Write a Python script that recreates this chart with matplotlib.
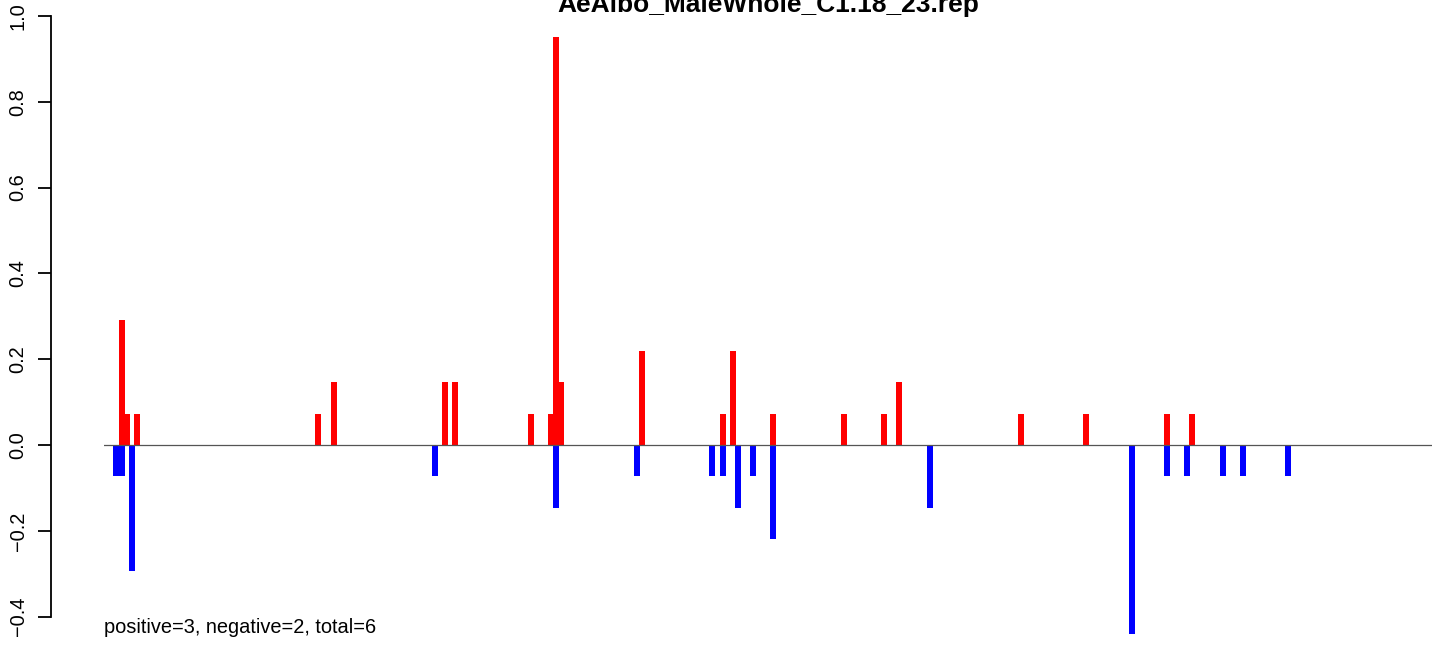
import matplotlib
matplotlib.use("Agg")
import matplotlib.pyplot as plt

plt.rcParams['font.family'] = ['Liberation Sans', 'DejaVu Sans']

# ---- data (positions along the read, relative values) ----
title = "AeAlbo_MaleWhole_C1.18_23.rep"
note = "positive=3, negative=2, total=6"

pos_x = [18, 23, 33, 214, 230, 341, 351, 427, 447, 452, 457, 538,
         619, 629, 669, 740, 780, 795, 917, 982, 1063, 1088]
pos_y = [0.291, 0.073, 0.073, 0.073, 0.146, 0.146, 0.146, 0.073, 0.073, 0.951, 0.146, 0.22,
         0.073, 0.22, 0.073, 0.073, 0.073, 0.146, 0.073, 0.073, 0.073, 0.073]

neg_x = [12, 18, 28, 331, 452, 533, 608, 619, 634, 649, 669, 826,
         1028, 1063, 1083, 1119, 1139, 1184]
neg_y = [-0.073, -0.073, -0.293, -0.073, -0.146, -0.073, -0.073, -0.073, -0.146, -0.073, -0.22, -0.146,
         -0.44, -0.073, -0.073, -0.073, -0.073, -0.073]

yticks = [-0.4, -0.2, 0.0, 0.2, 0.4, 0.6, 0.8, 1.0]

# ---- figure ----
W, H, DPI = 1444, 645, 100
fig = plt.figure(figsize=(W / DPI, H / DPI), dpi=DPI)
ax = fig.add_axes([104 / W, 0, 1328 / W, 1])

ax.bar(pos_x, pos_y, width=6, color='#ff0000', linewidth=0, zorder=2)
ax.bar(neg_x, neg_y, width=6, color='#0000ff', linewidth=0, zorder=2)
ax.axhline(0, color='#555555', linewidth=0.9, zorder=3)

ax.set_xlim(0, 1328)
ax.set_ylim(-0.466, 1.037)

for s in ['top', 'right', 'bottom']:
    ax.spines[s].set_visible(False)
ax.spines['left'].set_position(('outward', 53.3 * 72 / DPI))
ax.spines['left'].set_bounds(-0.4, 1.0)
ax.spines['left'].set_linewidth(1.3)
ax.set_xticks([])
ax.set_yticks(yticks)
ax.set_yticklabels([f"{v:.1f}".replace('-', '\u2212') for v in yticks],
                   rotation=90, va='center', fontsize=14.4)
ax.tick_params(axis='y', length=9.6, width=1.3, pad=7)

ax.text(0, -0.438, note, transform=ax.get_yaxis_transform(),
        ha='left', va='baseline', fontsize=14.4)

fig.text((104 + 664) / W, 1 - 11.7 / H, title, ha='center', va='baseline',
         fontsize=19, fontweight='bold')

fig.savefig("out.png", dpi=DPI)
